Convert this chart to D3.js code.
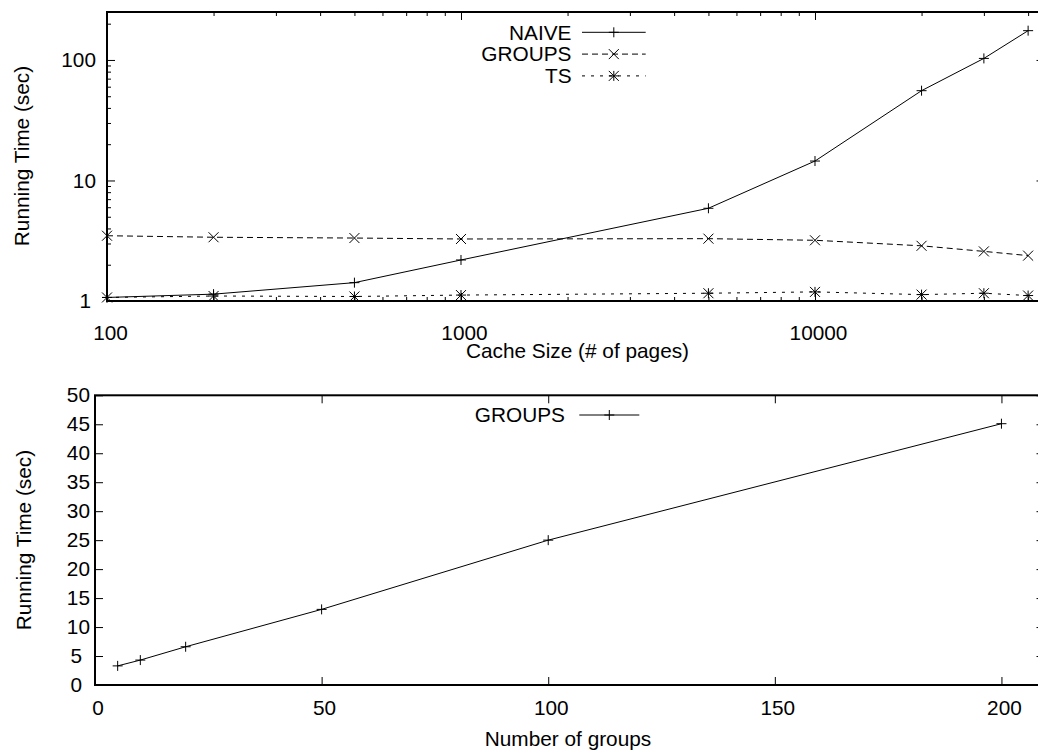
<!DOCTYPE html>
<html>
<head>
<meta charset="utf-8">
<script src="https://cdn.jsdelivr.net/npm/d3@7"></script>
<style>
  html, body { margin: 0; padding: 0; background: #fff; }
  svg { display: block; }
  text { font-family: "Liberation Sans", Arial, Helvetica, sans-serif; fill: #000; }
</style>
</head>
<body>
<svg id="chart" width="1038" height="751"></svg>
<script>
// ---------------- DATA ----------------
const cacheSizes = [100, 200, 500, 1000, 5000, 10000, 20000, 30000, 40000];
const naiveTimes = [1.07, 1.14, 1.42, 2.19, 5.88, 14.5, 55.6, 103, 175];
const groupsTimes = [3.48, 3.38, 3.33, 3.27, 3.29, 3.19, 2.87, 2.58, 2.38];
const tsTimes = [1.07, 1.10, 1.09, 1.12, 1.16, 1.19, 1.13, 1.16, 1.11];

const topXTicks = [100, 1000, 10000];
const topYTicks = [1, 10, 100];

const numGroups = [5, 10, 20, 50, 100, 200];
const groupsByCount = [3.3, 4.3, 6.6, 13.05, 25.0, 45.1];

const botXTicks = [0, 50, 100, 150, 200];
const botYTicks = [0, 5, 10, 15, 20, 25, 30, 35, 40, 45, 50];

const topSeries = [
  { name: "NAIVE", values: naiveTimes, dash: null, marker: "plus" },
  { name: "GROUPS", values: groupsTimes, dash: "6,4", marker: "cross" },
  { name: "TS", values: tsTimes, dash: "3,6", marker: "star" }
];

// ---------------- SETUP ----------------
const svg = d3.select("#chart");
const FONT = 20.8;
const R = 5; // marker half size

function markerPath(type, r) {
  const p = d3.path();
  if (type === "plus" || type === "star") {
    p.moveTo(-r, 0); p.lineTo(r, 0);
    p.moveTo(0, -r); p.lineTo(0, r);
  }
  if (type === "cross" || type === "star") {
    p.moveTo(-r, -r); p.lineTo(r, r);
    p.moveTo(-r, r); p.lineTo(r, -r);
  }
  return p.toString();
}

function styleAxis(g) {
  g.select(".domain").remove();
  g.selectAll(".tick line").attr("stroke", "#000").attr("stroke-width", 1);
  g.selectAll(".tick text").attr("font-size", FONT).attr("font-family", null);
}

function minorLogTicks(lo, hi) {
  const out = [];
  for (let d = 1; d <= 1e6; d *= 10) {
    for (let m = 2; m <= 9; m++) {
      const v = m * d;
      if (v > lo && v < hi) out.push(v);
    }
  }
  return out;
}

// ---------------- TOP CHART ----------------
const t = { left: 107, right: 1044.5, top: 12, bottom: 301 };
const xTop = d3.scaleLog().domain([100, 44500]).range([t.left, t.right]);
const yTop = d3.scaleLog().domain([1, 250]).range([t.bottom, t.top]);

const gTop = svg.append("g");

gTop.append("g").attr("transform", `translate(0,${t.bottom})`)
  .call(d3.axisBottom(xTop).tickValues(topXTicks).tickSizeInner(-8).tickSizeOuter(0).tickPadding(24).tickFormat(d3.format("d")))
  .call(styleAxis)
  .call(g => g.selectAll(".tick text").attr("dx", 3));
gTop.append("g").attr("transform", `translate(0,${t.bottom})`)
  .call(d3.axisBottom(xTop).tickValues(minorLogTicks(100, 44500)).tickSizeInner(-4).tickSizeOuter(0).tickFormat(""))
  .call(styleAxis);
gTop.append("g").attr("transform", `translate(0,${t.top})`)
  .call(d3.axisTop(xTop).tickValues(topXTicks).tickSizeInner(-8).tickSizeOuter(0).tickFormat(""))
  .call(styleAxis);
gTop.append("g").attr("transform", `translate(0,${t.top})`)
  .call(d3.axisTop(xTop).tickValues(minorLogTicks(100, 44500)).tickSizeInner(-4).tickSizeOuter(0).tickFormat(""))
  .call(styleAxis);
gTop.append("g").attr("transform", `translate(${t.left},0)`)
  .call(d3.axisLeft(yTop).tickValues(topYTicks).tickSizeInner(-8).tickSizeOuter(0).tickPadding(11).tickFormat(d3.format("d")))
  .call(styleAxis)
  .call(g => g.selectAll(".tick text").attr("dx", d => String(d).length === 1 ? -5 : 0));
gTop.append("g").attr("transform", `translate(${t.left},0)`)
  .call(d3.axisLeft(yTop).tickValues(minorLogTicks(1, 250)).tickSizeInner(-4).tickSizeOuter(0).tickFormat(""))
  .call(styleAxis);
gTop.append("g").attr("transform", `translate(${t.right},0)`)
  .call(d3.axisRight(yTop).tickValues(topYTicks).tickSizeInner(-8).tickSizeOuter(0).tickFormat(""))
  .call(styleAxis);
gTop.append("g").attr("transform", `translate(${t.right},0)`)
  .call(d3.axisRight(yTop).tickValues(minorLogTicks(1, 250)).tickSizeInner(-4).tickSizeOuter(0).tickFormat(""))
  .call(styleAxis);

gTop.append("rect")
  .attr("x", t.left).attr("y", t.top)
  .attr("width", t.right - t.left).attr("height", t.bottom - t.top)
  .attr("fill", "none").attr("stroke", "#000").attr("stroke-width", 2);

const lineTop = d3.line().x((d, i) => xTop(cacheSizes[i])).y(d => yTop(d));
topSeries.forEach(s => {
  gTop.append("path")
    .attr("d", lineTop(s.values))
    .attr("fill", "none").attr("stroke", "#000").attr("stroke-width", 1)
    .attr("stroke-dasharray", s.dash);
  gTop.selectAll(null).data(s.values).enter().append("path")
    .attr("transform", (d, i) => `translate(${xTop(cacheSizes[i])},${yTop(d)})`)
    .attr("d", markerPath(s.marker, R))
    .attr("fill", "none").attr("stroke", "#000").attr("stroke-width", 1);
});

const legTop = gTop.append("g");
topSeries.forEach((s, i) => {
  const y = 32.3 + i * 21.8;
  legTop.append("text").attr("x", 571.5).attr("y", y).attr("dy", "0.35em")
    .attr("text-anchor", "end").attr("font-size", FONT).text(s.name);
  legTop.append("line").attr("x1", 582).attr("x2", 645.7).attr("y1", y).attr("y2", y)
    .attr("stroke", "#000").attr("stroke-width", 1).attr("stroke-dasharray", s.dash);
  legTop.append("path").attr("transform", `translate(613.8,${y})`)
    .attr("d", markerPath(s.marker, R)).attr("fill", "none").attr("stroke", "#000").attr("stroke-width", 1);
});

gTop.append("text").attr("x", 577.5).attr("y", 358).attr("text-anchor", "middle")
  .attr("font-size", FONT).text("Cache Size (# of pages)");
gTop.append("text").attr("transform", `translate(29,156) rotate(-90)`).attr("text-anchor", "middle")
  .attr("font-size", FONT).text("Running Time (sec)");

// ---------------- BOTTOM CHART ----------------
const b = { left: 95, right: 1044.5, top: 395.3, bottom: 685 };
const xBot = d3.scaleLinear().domain([0, 209.5]).range([b.left, b.right]);
const yBot = d3.scaleLinear().domain([0, 50]).range([b.bottom, b.top]);

const gBot = svg.append("g");

gBot.append("g").attr("transform", `translate(0,${b.bottom})`)
  .call(d3.axisBottom(xBot).tickValues(botXTicks).tickSizeInner(-8).tickSizeOuter(0).tickPadding(15).tickFormat(d3.format("d")))
  .call(styleAxis)
  .call(g => g.selectAll(".tick text").attr("dx", 2.5));
gBot.append("g").attr("transform", `translate(0,${b.top})`)
  .call(d3.axisTop(xBot).tickValues(botXTicks).tickSizeInner(-8).tickSizeOuter(0).tickFormat(""))
  .call(styleAxis);
gBot.append("g").attr("transform", `translate(${b.left},0)`)
  .call(d3.axisLeft(yBot).tickValues(botYTicks).tickSizeInner(-8).tickSizeOuter(0).tickPadding(5).tickFormat(d3.format("d")))
  .call(styleAxis)
  .call(g => g.selectAll(".tick text").attr("dx", d => String(d).length === 1 ? -8 : 0));
gBot.append("g").attr("transform", `translate(${b.right},0)`)
  .call(d3.axisRight(yBot).tickValues(botYTicks).tickSizeInner(-8).tickSizeOuter(0).tickFormat(""))
  .call(styleAxis);

gBot.append("rect")
  .attr("x", b.left).attr("y", b.top)
  .attr("width", b.right - b.left).attr("height", b.bottom - b.top)
  .attr("fill", "none").attr("stroke", "#000").attr("stroke-width", 2);

const lineBot = d3.line().x((d, i) => xBot(numGroups[i])).y(d => yBot(d));
gBot.append("path").attr("d", lineBot(groupsByCount))
  .attr("fill", "none").attr("stroke", "#000").attr("stroke-width", 1);
gBot.selectAll(null).data(groupsByCount).enter().append("path")
  .attr("transform", (d, i) => `translate(${xBot(numGroups[i])},${yBot(d)})`)
  .attr("d", markerPath("plus", R))
  .attr("fill", "none").attr("stroke", "#000").attr("stroke-width", 1);

gBot.append("text").attr("x", 565).attr("y", 415).attr("dy", "0.35em")
  .attr("text-anchor", "end").attr("font-size", FONT).text("GROUPS");
gBot.append("line").attr("x1", 579.3).attr("x2", 639.3).attr("y1", 415).attr("y2", 415)
  .attr("stroke", "#000").attr("stroke-width", 1);
gBot.append("path").attr("transform", `translate(609.3,415)`)
  .attr("d", markerPath("plus", R)).attr("fill", "none").attr("stroke", "#000").attr("stroke-width", 1);

gBot.append("text").attr("x", 568).attr("y", 746).attr("text-anchor", "middle")
  .attr("font-size", FONT).text("Number of groups");
gBot.append("text").attr("transform", `translate(31,540) rotate(-90)`).attr("text-anchor", "middle")
  .attr("font-size", FONT).text("Running Time (sec)");
</script>
</body>
</html>
